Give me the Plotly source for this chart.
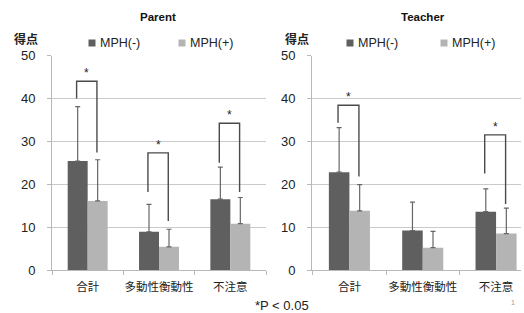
import plotly.graph_objects as go

# ---------------- data ----------------
categories = ["合計", "多動性衡動性", "不注意"]
series_names = ["MPH(-)", "MPH(+)"]

parent_mph_minus = [25.4, 8.9, 16.5]
parent_mph_minus_sd = [12.7, 6.4, 7.5]
parent_mph_plus = [16.1, 5.4, 10.8]
parent_mph_plus_sd = [9.6, 4.1, 6.1]

teacher_mph_minus = [22.8, 9.2, 13.6]
teacher_mph_minus_sd = [10.4, 6.6, 5.3]
teacher_mph_plus = [13.8, 5.2, 8.5]
teacher_mph_plus_sd = [6.1, 3.8, 5.9]

# significance brackets (category index, top, left end, right end)
parent_sig_idx = [0, 1, 2]
parent_sig_top = [44.0, 27.3, 34.2]
parent_sig_left = [40.0, 18.2, 25.0]
parent_sig_right = [27.4, 11.4, 18.2]

teacher_sig_idx = [0, 2]
teacher_sig_top = [38.4, 31.5]
teacher_sig_left = [34.3, 22.5]
teacher_sig_right = [21.8, 15.4]

y_ticks = [0, 10, 20, 30, 40, 50]

# ---------------- style ----------------
W, H = 524, 313
DARK = "#5f5f5f"
LIGHT = "#b4b4b4"
GRID = "#cacaca"
AXIS = "#b8b8b8"
ERR = "#666666"
BRK = "#4a4a4a"
FONT = "Liberation Sans, Noto Sans CJK JP, sans-serif"
CJK = "Noto Sans CJK JP, sans-serif"
BL, BR = -0.155, 0.13  # bracket offsets within a category


def px(x):
    return x / W


def py(y):
    return 1 - y / H


fig = go.Figure()
xpos = list(range(len(categories)))

panels = [
    ("x", "y", parent_mph_minus, parent_mph_minus_sd, parent_mph_plus, parent_mph_plus_sd,
     parent_sig_idx, parent_sig_top, parent_sig_left, parent_sig_right),
    ("x2", "y2", teacher_mph_minus, teacher_mph_minus_sd, teacher_mph_plus, teacher_mph_plus_sd,
     teacher_sig_idx, teacher_sig_top, teacher_sig_left, teacher_sig_right),
]

for k, (xa, ya, m1, s1, m2, s2, sidx, stop, sl, sr) in enumerate(panels):
    for name, vals, sd, col in [(series_names[0], m1, s1, DARK), (series_names[1], m2, s2, LIGHT)]:
        fig.add_trace(go.Bar(
            x=xpos, y=vals, name=name, marker=dict(color=col, line=dict(width=0)),
            xaxis=xa, yaxis=ya, showlegend=False, offsetgroup=name,
            error_y=dict(type="data", symmetric=False, array=sd, arrayminus=[0] * len(sd),
                         color=ERR, thickness=1.2, width=2.5),
        ))
    bx, by = [], []
    for i, t, l, r in zip(sidx, stop, sl, sr):
        bx += [i + BL, i + BL, i + BR, i + BR, None]
        by += [l, t, t, r, None]
    fig.add_trace(go.Scatter(x=bx, y=by, mode="lines", line=dict(color=BRK, width=1.4),
                             xaxis=xa, yaxis=ya, showlegend=False, hoverinfo="skip"))
    for i, t in zip(sidx, stop):
        fig.add_annotation(x=i + (BL + BR) / 2, y=t, xref=xa, yref=ya, text="*",
                           showarrow=False, xanchor="center", yanchor="bottom", yshift=-1,
                           font=dict(family=FONT, size=12, color="#222"))

fig.update_layout(barmode="group", bargap=0.44, bargroupgap=0)

ydom = [py(270), py(55.5)]
axis_common_y = dict(range=[0, 50], tickvals=y_ticks, showgrid=True, gridcolor=GRID, gridwidth=1,
                     zeroline=False, showline=True, linecolor=AXIS, linewidth=1,
                     ticks="outside", ticklen=4, tickcolor=AXIS, ticklabelstandoff=9,
                     tickfont=dict(family=FONT, size=13, color="#222"), fixedrange=True,
                     automargin=False)
axis_common_x = dict(tickvals=xpos, ticktext=categories, showgrid=False, zeroline=False,
                     showline=True, linecolor=AXIS, linewidth=1, ticks="",
                     minor=dict(tickvals=[-0.5, 0.5, 1.5, 2.5], ticks="outside", ticklen=4,
                                tickcolor=AXIS, showgrid=False),
                     tickfont=dict(family=CJK, size=11.5, color="#222"), ticklabelstandoff=6,
                     fixedrange=True, automargin=False)

fig.update_layout(
    width=W, height=H, margin=dict(l=0, r=0, t=0, b=0, pad=0, autoexpand=False),
    plot_bgcolor="white", paper_bgcolor="white",
    xaxis=dict(domain=[px(52), px(266)], range=[-0.5, 2.5], anchor="y", **axis_common_x),
    yaxis=dict(domain=ydom, anchor="x", **axis_common_y),
    xaxis2=dict(domain=[px(312), px(521)], range=[-0.51, 2.34], anchor="y2", **axis_common_x),
    yaxis2=dict(domain=ydom, anchor="x2", **axis_common_y),
)


def paper_text(x, y, text, font, xanchor="center"):
    fig.add_annotation(x=px(x), y=py(y), xref="paper", yref="paper", text=text,
                       showarrow=False, xanchor=xanchor, yanchor="middle", font=font)


# titles
for x, t in [(158, "Parent"), (423, "Teacher")]:
    paper_text(x, 17, "<b>" + t + "</b>", dict(family=FONT, size=11.5, color="#111"))

# y-axis unit label + legends
for x0, sq1, sq2 in [(26, 92, 182), (297, 350, 444)]:
    paper_text(x0, 38.5, "<b>得点</b>", dict(family=CJK, size=12, color="#222"))
    for sq, col, name in [(sq1, DARK, series_names[0]), (sq2, LIGHT, series_names[1])]:
        fig.add_shape(type="rect", xref="paper", yref="paper",
                      x0=px(sq - 3.5), x1=px(sq + 3.5), y0=py(46.5), y1=py(39.5),
                      fillcolor=col, line=dict(width=0))
        paper_text(sq + 6, 43, name, dict(family=FONT, size=12.5, color="#222"), xanchor="left")

paper_text(253, 305, "*P < 0.05", dict(family=FONT, size=13, color="#222"), xanchor="left")
paper_text(513, 302, "1", dict(family=FONT, size=7, color="#999"))

fig.write_html(
    "out.html",
    config={"displayModeBar": False},
    post_script="document.body.style.margin='0';document.body.style.overflow='hidden';",
)
